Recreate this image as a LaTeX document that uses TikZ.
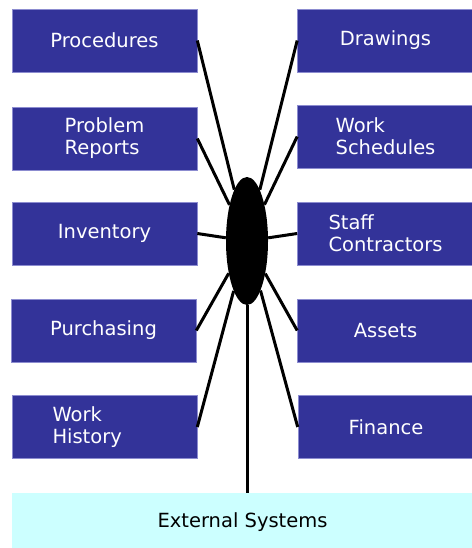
\documentclass[tikz,border=0pt]{standalone}
\usepackage{fontspec}
\setmainfont{DejaVu Sans}
\usetikzlibrary{shapes.geometric}
\definecolor{boxblue}{HTML}{333399}
\definecolor{boxedge}{HTML}{8C8CD0}
\definecolor{extcyan}{HTML}{CCFFFF}
\tikzset{
  module/.style = {
    draw=boxedge, line width=0.6pt, fill=boxblue, text=white,
    font=\fontsize{19.5}{22}\selectfont, align=left,
    minimum height=63pt, inner sep=0pt
  },
  leftbox/.style  = {module, minimum width=185pt},
  rightbox/.style = {module, minimum width=176pt},
  spoke/.style = {line width=3pt}
}

\begin{document}
\begin{tikzpicture}[x=1pt,y=-1pt]
  \useasboundingbox (0,0) rectangle (471,548);
  % left column
  \node[leftbox] (proc) at (104.5,40.5) {Procedures};
  \node[leftbox] (prob) at (104.5,138.5) {Problem\\Reports};
  \node[leftbox] (inv)  at (104.5,233.5) {Inventory};
  \node[leftbox] (purch) at (103.5,330.5) {Purchasing};
  \node[leftbox,text width=104pt] (hist) at (104.5,427) {Work\\History};
  % right column
  \node[rightbox] (draw)  at (385.5,40.5) {Drawings};
  \node[rightbox] (sched) at (385.5,136.5) {Work\\Schedules};
  \node[rightbox] (staff) at (385.5,233.5) {Staff\\Contractors};
  \node[rightbox] (asset) at (385.5,330.5) {Assets};
  \node[rightbox] (fin)   at (386,427) {Finance};
  % external systems
  \node[fill=extcyan, minimum width=461pt, minimum height=58pt,
        font=\fontsize{19.5}{22}\selectfont] (ext) at (242.5,522) {External Systems};
  % hub
  \node[ellipse, fill=black, minimum width=42pt, minimum height=128pt, inner sep=0pt] (hub) at (247,241) {};
  % spokes
  \draw[spoke] (proc.east)  -- (hub);
  \draw[spoke] (prob.east)  -- (hub);
  \draw[spoke] (inv.east)   -- (hub);
  \draw[spoke] (purch.east) -- (hub);
  \draw[spoke] (hist.east)  -- (hub);
  \draw[spoke] (draw.west)  -- (hub);
  \draw[spoke] (sched.west) -- (hub);
  \draw[spoke] (staff.west) -- (hub);
  \draw[spoke] (asset.west) -- (hub);
  \draw[spoke] (fin.west)   -- (hub);
  \draw[spoke] (hub.south)  -- (hub.south |- ext.north);
\end{tikzpicture}
\end{document}
